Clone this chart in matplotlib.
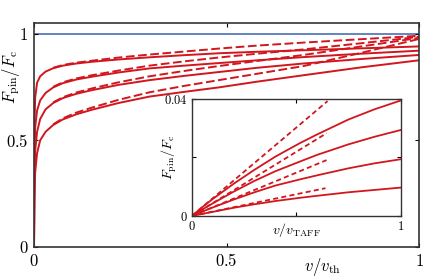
import numpy as np
import matplotlib
matplotlib.use("Agg")
import matplotlib.pyplot as plt

plt.rcParams['mathtext.fontset'] = 'cm'
plt.rcParams['font.family'] = 'serif'
plt.rcParams['font.serif'] = ['DejaVu Serif']

red = '#d2161e'
blue = '#4a6fb5'

# main panel: F_pin/F_c against v/v_th
v_main = [0, 0.001, 0.003, 0.008, 0.016, 0.03, 0.05, 0.075, 0.11, 0.15,
          0.22, 0.3, 0.39, 0.48, 0.58, 0.7, 0.85, 1.0]
solid_main = [
    [0, 0.55, 0.70, 0.77, 0.800, 0.822, 0.838, 0.850, 0.860, 0.868,
     0.879, 0.889, 0.899, 0.908, 0.915, 0.922, 0.931, 0.940],
    [0, 0.40, 0.56, 0.64, 0.687, 0.722, 0.748, 0.768, 0.785, 0.798,
     0.818, 0.837, 0.850, 0.862, 0.875, 0.890, 0.906, 0.920],
    [0, 0.30, 0.45, 0.54, 0.600, 0.645, 0.675, 0.698, 0.718, 0.735,
     0.760, 0.782, 0.802, 0.820, 0.840, 0.860, 0.881, 0.900],
    [0, 0.22, 0.35, 0.44, 0.500, 0.540, 0.572, 0.598, 0.622, 0.643,
     0.675, 0.705, 0.727, 0.748, 0.775, 0.805, 0.842, 0.875],
]
v_dash = [0.05, 0.075, 0.11, 0.15, 0.22, 0.3, 0.39, 0.48, 0.58, 0.7, 0.85, 1.0]
dash_main = [
    [0.840, 0.853, 0.864, 0.873, 0.888, 0.902, 0.916, 0.930, 0.944, 0.958, 0.974, 0.990],
    [0.751, 0.772, 0.790, 0.805, 0.827, 0.850, 0.870, 0.888, 0.906, 0.926, 0.955, 0.985],
    [0.678, 0.702, 0.724, 0.743, 0.772, 0.800, 0.825, 0.848, 0.872, 0.900, 0.940, 0.980],
    [0.575, 0.603, 0.630, 0.653, 0.690, 0.725, 0.755, 0.782, 0.812, 0.848, 0.910, 0.975],
]

# inset: F_pin/F_c against v/v_TAFF
v_ins = [0, 0.05, 0.1, 0.2, 0.3, 0.4, 0.517, 0.6, 0.75, 0.875, 1.0]
solid_ins = [
    [0, 0.0030, 0.0058, 0.0110, 0.0158, 0.0203, 0.0249, 0.0279, 0.0330, 0.0365, 0.0395],
    [0, 0.0022, 0.0043, 0.0083, 0.0120, 0.0153, 0.0186, 0.0209, 0.0245, 0.0271, 0.0294],
    [0, 0.0015, 0.0029, 0.0056, 0.0081, 0.0104, 0.0125, 0.0139, 0.0163, 0.0180, 0.0194],
    [0, 0.0007, 0.0014, 0.0028, 0.0040, 0.0051, 0.0062, 0.0069, 0.0081, 0.0089, 0.0097],
]
dash_ins_x = [[0, 0.65], [0, 0.645], [0, 0.645], [0, 0.64]]
dash_ins_y = [[0, 0.0393], [0, 0.0283], [0, 0.0191], [0, 0.0095]]

fig = plt.figure(figsize=(4.36, 2.79), dpi=100)
ax = fig.add_axes([0.078, 0.1147, 0.883, 0.803])

ax.axhline(1.0, color=blue, lw=1.2, zorder=1)
for ys in solid_main:
    ax.plot(v_main, ys, color=red, lw=1.4)
for ys in dash_main:
    ax.plot(v_dash, ys, color=red, lw=1.4, dashes=(4.5, 1.8))

ax.set_xlim(0, 1)
ax.set_ylim(0, 1.05)
ax.set_xticks([0, 0.5, 1])
ax.set_xticklabels(['$0$', '$0.5$', '$1$'], fontsize=12)
ax.set_yticks([0, 0.5, 1])
ax.set_yticklabels(['$0$', '$0.5$', '$1$'], fontsize=12)
ax.tick_params(direction='in', top=True, right=True, length=3, width=0.8, pad=4)
for s in ax.spines.values():
    s.set_color('#333333')
    s.set_linewidth(1.2)
ax.set_xlabel(r'$v/v_{\mathrm{th}}$', fontsize=12)
ax.xaxis.set_label_coords(0.75, -0.04)
ax.set_ylabel(r'$F_{\mathrm{pin}}/F_{\mathrm{c}}$', fontsize=12)
ax.yaxis.set_label_coords(-0.031, 0.76)

ins = fig.add_axes([0.440, 0.226, 0.479, 0.419])
for ys in solid_ins:
    ins.plot(v_ins, ys, color=red, lw=1.3)
for xs, ys in zip(dash_ins_x, dash_ins_y):
    ins.plot(xs, ys, color=red, lw=1.3, dashes=(2.8, 1.8))
ins.set_xlim(0, 1)
ins.set_ylim(0, 0.04)
ins.set_xticks([0, 0.5, 1])
ins.set_xticklabels(['$0$', '', '$1$'], fontsize=9)
ins.set_yticks([0, 0.02, 0.04])
ins.set_yticklabels(['$0$', '', '$0.04$'], fontsize=9)
ins.tick_params(direction='in', top=True, right=True, length=3, width=0.8, pad=3)
for s in ins.spines.values():
    s.set_color('#333333')
    s.set_linewidth(1.0)
ins.set_xlabel(r'$v/v_{\mathrm{TAFF}}$', fontsize=10)
ins.xaxis.set_label_coords(0.5, -0.04)
ins.xaxis.label.set_va('top')
ins.set_ylabel(r'$F_{\mathrm{pin}}/F_{\mathrm{c}}$', fontsize=10)
ins.yaxis.set_label_coords(-0.06, 0.5)

fig.savefig('out.png', dpi=100)
